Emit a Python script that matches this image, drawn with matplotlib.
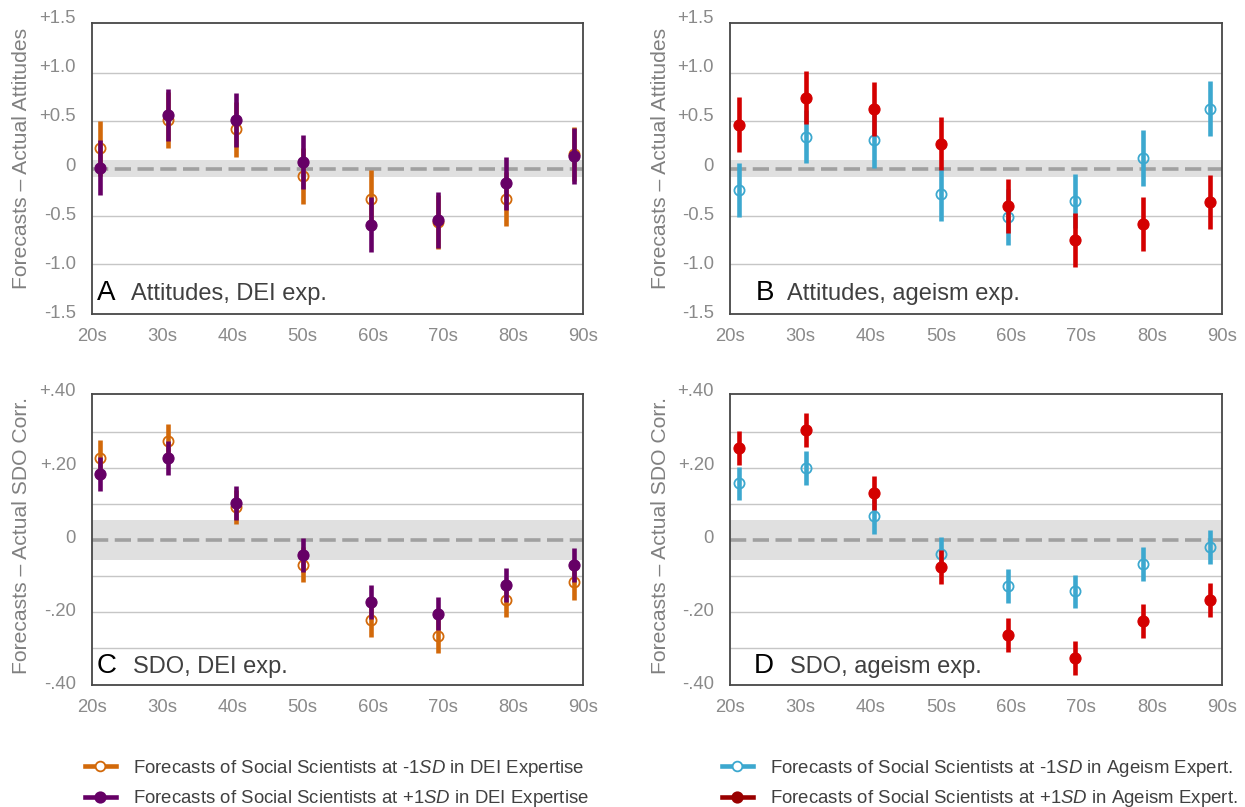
import numpy as np
import matplotlib
matplotlib.use("Agg")
import matplotlib.pyplot as plt
from matplotlib.lines import Line2D
from matplotlib.transforms import ScaledTranslation

plt.rcParams['font.family'] = ['Liberation Sans', 'DejaVu Sans']
plt.rcParams['mathtext.fontset'] = 'custom'
plt.rcParams['mathtext.it'] = 'Liberation Sans:italic'
plt.rcParams['mathtext.rm'] = 'Liberation Sans'

decades = ['20s', '30s', '40s', '50s', '60s', '70s', '80s', '90s']

# Panel A: Attitudes, DEI expertise
a_low_mean = [0.21, 0.51, 0.41, -0.08, -0.32, -0.56, -0.32, 0.15]
a_low_err = [0.29, 0.29, 0.29, 0.29, 0.30, 0.28, 0.285, 0.28]
a_high_mean = [0.01, 0.56, 0.51, 0.07, -0.59, -0.54, -0.155, 0.13]
a_high_err = [0.285, 0.27, 0.28, 0.285, 0.29, 0.29, 0.28, 0.29]

# Panel B: Attitudes, ageism expertise
b_low_mean = [-0.224, 0.333, 0.299, -0.268, -0.508, -0.337, 0.111, 0.627]
b_low_err = [0.285, 0.28, 0.29, 0.28, 0.29, 0.284, 0.29, 0.285]
b_high_mean = [0.46, 0.744, 0.624, 0.262, -0.39, -0.75, -0.583, -0.35]
b_high_err = [0.285, 0.28, 0.286, 0.28, 0.285, 0.285, 0.285, 0.287]

# Panel C: SDO, DEI expertise
c_low_mean = [0.227, 0.273, 0.091, -0.069, -0.222, -0.266, -0.167, -0.118]
c_low_err = [0.049, 0.047, 0.047, 0.049, 0.046, 0.046, 0.048, 0.049]
c_high_mean = [0.182, 0.227, 0.102, -0.042, -0.172, -0.204, -0.125, -0.070]
c_high_err = [0.048, 0.046, 0.048, 0.046, 0.048, 0.047, 0.047, 0.047]

# Panel D: SDO, ageism expertise
d_low_mean = [0.157, 0.199, 0.065, -0.038, -0.129, -0.143, -0.067, -0.021]
d_low_err = [0.046, 0.046, 0.048, 0.047, 0.047, 0.047, 0.047, 0.047]
d_high_mean = [0.255, 0.305, 0.131, -0.074, -0.264, -0.327, -0.226, -0.166]
d_high_err = [0.047, 0.047, 0.047, 0.047, 0.047, 0.047, 0.047, 0.047]

att_ticks = [-1.5, -1.0, -0.5, 0, 0.5, 1.0, 1.5]
att_ticklabels = ['-1.5', '-1.0', '-0.5', '0', '+0.5', '+1.0', '+1.5']
att_grid = [-1.0, -0.5, 0.5, 1.0]
sdo_ticks = [-0.4, -0.2, 0, 0.2, 0.4]
sdo_ticklabels = ['-.40', '-.20', '0', '+.20', '+.40']
sdo_grid = [-0.3, -0.2, -0.1, 0.1, 0.2, 0.3]

ORANGE = '#D2690A'
PURPLE = '#660066'
BLUE = '#3CA8CF'
RED = '#D40000'
DARKRED = '#990000'
TICKC = '#8A8A8A'

legend_labels = [
    'Forecasts of Social Scientists at -1$\\mathit{SD}$ in DEI Expertise',
    'Forecasts of Social Scientists at +1$\\mathit{SD}$ in DEI Expertise',
    'Forecasts of Social Scientists at -1$\\mathit{SD}$ in Ageism Expert.',
    'Forecasts of Social Scientists at +1$\\mathit{SD}$ in Ageism Expert.',
]

fig = plt.figure(figsize=(12.45, 8.07), dpi=100)

W, H = 1245, 807
panels = [
    dict(rect=(92, 23, 583, 314), letter='A', title='Attitudes, DEI exp.',
         low=(a_low_mean, a_low_err), high=(a_high_mean, a_high_err),
         cl=ORANGE, ch=PURPLE, kind='att', xlim=(-0.123, 7.14),
         letter_x=0.010, title_x=0.079, text_y=0.048,
         ylabel='Forecasts \u2013 Actual Attitudes', ylx=-0.143, yly=0.536),
    dict(rect=(730, 23, 1222, 314), letter='B', title='Attitudes, ageism exp.',
         low=(b_low_mean, b_low_err), high=(b_high_mean, b_high_err),
         cl=BLUE, ch=RED, kind='att', xlim=(-0.137, 7.18),
         letter_x=0.053, title_x=0.116, text_y=0.048,
         ylabel='Forecasts \u2013 Actual Attitudes', ylx=-0.141, yly=0.536),
    dict(rect=(92, 394, 583, 685), letter='C', title='SDO, DEI exp.',
         low=(c_low_mean, c_low_err), high=(c_high_mean, c_high_err),
         cl=ORANGE, ch=PURPLE, kind='sdo', xlim=(-0.123, 7.14),
         letter_x=0.010, title_x=0.083, text_y=0.041,
         ylabel='Forecasts \u2013 Actual SDO Corr.', ylx=-0.143, yly=0.513),
    dict(rect=(730, 394, 1222, 685), letter='D', title='SDO, ageism exp.',
         low=(d_low_mean, d_low_err), high=(d_high_mean, d_high_err),
         cl=BLUE, ch=RED, kind='sdo', xlim=(-0.137, 7.18),
         letter_x=0.049, title_x=0.121, text_y=0.041,
         ylabel='Forecasts \u2013 Actual SDO Corr.', ylx=-0.141, yly=0.513),
]

for p in panels:
    x0, y0, x1, y1 = p['rect']
    ax = fig.add_axes([x0 / W, 1 - y1 / H, (x1 - x0) / W, (y1 - y0) / H])
    x = np.arange(len(decades))
    if p['kind'] == 'att':
        ylim = (-1.525, 1.525); band = 0.09
        ticks, tlabels, grid = att_ticks, att_ticklabels, att_grid
        off_a, off_b = 4.4, 4.2
    else:
        ylim = (-0.402, 0.404); band = 0.055
        ticks, tlabels, grid = sdo_ticks, sdo_ticklabels, sdo_grid
        off_a, off_b = 3.5, 2.0
    ax.set_ylim(*ylim)
    ax.set_xlim(*p['xlim'])
    for g in grid:
        ax.axhline(g, color='#C6C6C6', lw=1.0, zorder=0.2)
    ax.axhspan(-band, band, color='#E0E0E0', zorder=0.5, lw=0)
    ax.axhline(0, color='#A0A0A0', lw=2.6, ls=(0, (4.5, 1.8)), zorder=1)

    lm, le = p['low']
    hm, he = p['high']
    ax.errorbar(x, lm, yerr=le, fmt='o', color=p['cl'], ecolor=p['cl'],
                elinewidth=3.3, capsize=0, ms=7.3, mfc='none', mec=p['cl'],
                mew=1.3, zorder=3)
    ax.errorbar(x, hm, yerr=he, fmt='o', color=p['ch'], ecolor=p['ch'],
                elinewidth=3.3, capsize=0, ms=8.0, mfc=p['ch'], mec=p['ch'],
                mew=0.8, zorder=4)

    ax.set_yticks(ticks)
    ax.set_yticklabels(tlabels)
    xl = ax.get_xlim()
    ax.set_xticks(np.linspace(xl[0], xl[1], len(decades)))
    ax.set_xticklabels(decades)
    ax.tick_params(axis='y', which='major', length=0, pad=11.5,
                   labelsize=13.3, labelcolor=TICKC)
    ax.tick_params(axis='x', length=0, pad=10, labelsize=13.3, labelcolor=TICKC)
    vmax = max(ticks)
    for v, lab in zip(ticks, ax.get_yticklabels()):
        dy = (off_a + off_b * v / vmax) / 100.0
        lab.set_transform(lab.get_transform() +
                          ScaledTranslation(0, dy, fig.dpi_scale_trans))
    for s in ax.spines.values():
        s.set_color('#474747')
        s.set_linewidth(1.3)

    ax.set_ylabel(p['ylabel'], fontsize=15.2, color='#808080', va='center')
    ax.yaxis.set_label_coords(p['ylx'], p['yly'])

    ax.text(p['letter_x'], p['text_y'], p['letter'], transform=ax.transAxes,
            fontsize=20, color='black', va='baseline', ha='left')
    ax.text(p['title_x'], p['text_y'], p['title'], transform=ax.transAxes,
            fontsize=17, color='#404040', va='baseline', ha='left')

def handle(c, filled):
    return Line2D([], [], color=c, lw=3.3, marker='o', ms=7.5 if filled else 7,
                  mfc=c if filled else 'white', mec=c, mew=1.3)

common = dict(loc='upper left', frameon=False, borderpad=0, borderaxespad=0,
              fontsize=13.4, handlelength=1.65, handletextpad=0.95,
              labelspacing=0.5, labelcolor='#404040')
leg1 = fig.legend(handles=[handle(ORANGE, False), handle(PURPLE, True)],
                  labels=legend_labels[:2],
                  bbox_to_anchor=(85 / W, 1 - 758 / H), **common)
leg2 = fig.legend(handles=[handle(BLUE, False), handle(DARKRED, True)],
                  labels=legend_labels[2:],
                  bbox_to_anchor=(722 / W, 1 - 758 / H), **common)

fig.savefig('out.png', dpi=100)
